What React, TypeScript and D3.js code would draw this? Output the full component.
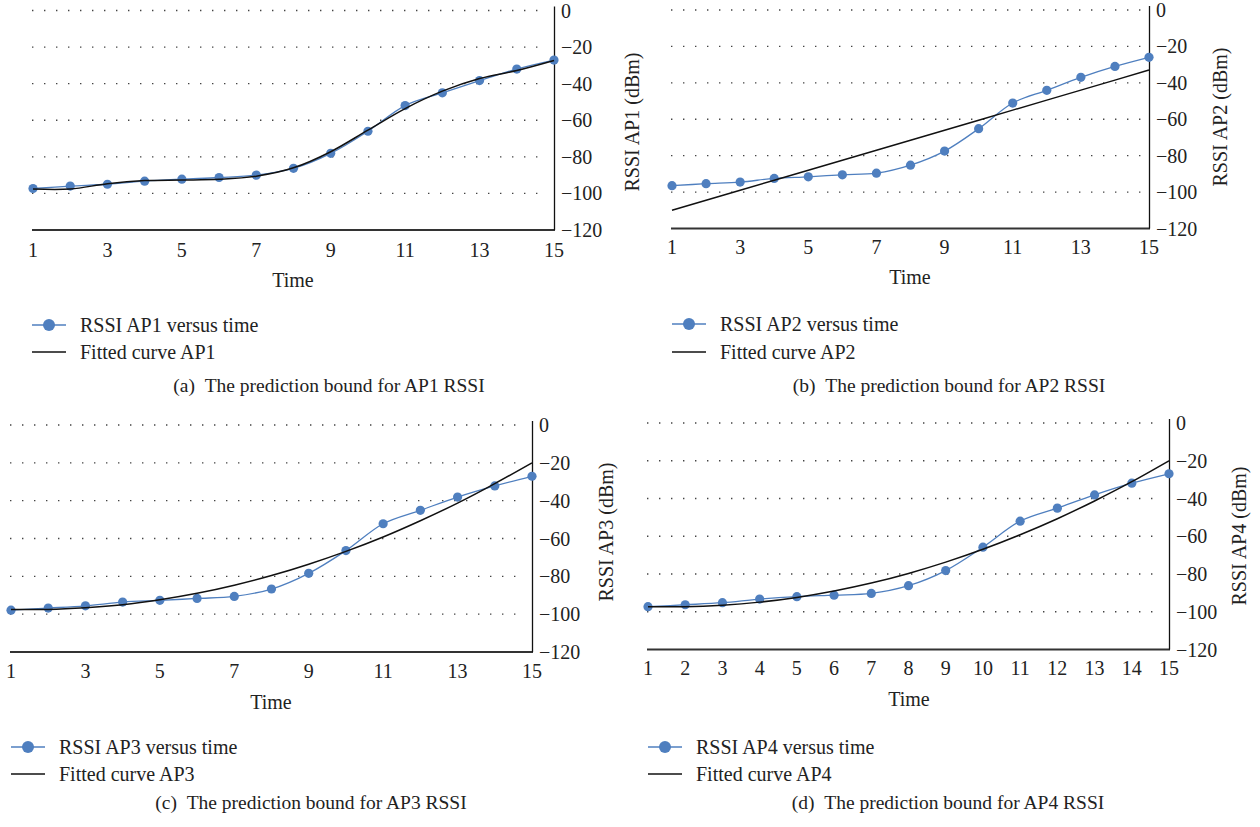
import React from "react";
import * as d3 from "d3";

// ---------- data ----------
const timeSteps = [1, 2, 3, 4, 5, 6, 7, 8, 9, 10, 11, 12, 13, 14, 15];
const yTickValues = [0, -20, -40, -60, -80, -100, -120];
const xTicksOdd = [1, 3, 5, 7, 9, 11, 13, 15];
const xTicksAll = [1, 2, 3, 4, 5, 6, 7, 8, 9, 10, 11, 12, 13, 14, 15];

const rssiAP1 = [-97.3, -96, -95, -93.3, -92.2, -91.3, -90, -86.3, -78.1, -66, -52, -45, -38.3, -32, -27.1];
const fitAP1 = [-97.6, -97.6, -94.7, -93, -92.7, -92.3, -90.6, -86, -77.2, -65.4, -53.6, -44.1, -37.2, -32.8, -27.3];

const rssiAP2 = [-96.5, -95.4, -94.5, -92.5, -91.6, -90.5, -89.6, -85.2, -77.5, -65.2, -51.1, -44.1, -37, -31, -26];
const fitAP2 = [-110, -104.5, -99, -93.5, -88, -82.5, -77, -71.5, -66, -60.5, -55, -49.5, -44, -38.5, -33];

const rssiAP3 = [-97.9, -96.8, -95.6, -93.6, -92.7, -91.7, -90.6, -86.7, -78.4, -66.4, -52.2, -45.1, -38.1, -32.2, -27.1];
const fitAP3 = [-97.5, -97.5, -96.6, -95.0, -92.4, -89.0, -84.7, -79.6, -73.6, -66.8, -59.2, -50.6, -41.3, -31.0, -20.0];

const rssiAP4 = [-97.3, -96.3, -95.2, -93.3, -92, -91.2, -90.3, -86.2, -78.2, -65.8, -52, -45.1, -38.1, -31.9, -26.9];
const fitAP4 = [-97.3, -97.3, -96.5, -94.9, -92.4, -89.0, -84.8, -79.7, -73.7, -66.9, -59.2, -50.7, -41.3, -31.1, -20.0];

const seriesNames = ["RSSI AP1 versus time", "RSSI AP2 versus time", "RSSI AP3 versus time", "RSSI AP4 versus time"];
const fitNames = ["Fitted curve AP1", "Fitted curve AP2", "Fitted curve AP3", "Fitted curve AP4"];
const yLabels = ["RSSI AP1 (dBm)", "RSSI AP2 (dBm)", "RSSI AP3 (dBm)", "RSSI AP4 (dBm)"];
const captionLetters = ["(a)", "(b)", "(c)", "(d)"];
const captionTexts = ["The prediction bound for AP1 RSSI", "The prediction bound for AP2 RSSI", "The prediction bound for AP3 RSSI", "The prediction bound for AP4 RSSI"];

const FONT = "Liberation Serif, Times New Roman, DejaVu Serif, serif";
const BLUE = "#4f7fbf";

type Layout = {
  x0: number; x1: number; yTop: number; yBot: number;
  tickY: number; timeX: number; timeY: number;
  ylX: number; ylY: number;
  legX: number; legY1: number; legY2: number;
  capX: number; capY: number;
};

const layouts: Layout[] = [
  { x0: 33, x1: 554, yTop: 10.5, yBot: 230, tickY: 250, timeX: 293, timeY: 280, ylX: 632, ylY: 122, legX: 32, legY1: 325, legY2: 352, capX: 329, capY: 385 },
  { x0: 672, x1: 1149, yTop: 10, yBot: 228.5, tickY: 247, timeX: 910, timeY: 277, ylX: 1220, ylY: 117, legX: 672, legY1: 324, legY2: 352, capX: 949, capY: 385 },
  { x0: 11, x1: 532, yTop: 425, yBot: 652, tickY: 671, timeX: 271, timeY: 702, ylX: 606, ylY: 532, legX: 11, legY1: 747, legY2: 774, capX: 311, capY: 802 },
  { x0: 648, x1: 1169, yTop: 423, yBot: 649.5, tickY: 668, timeX: 909, timeY: 699, ylX: 1239, ylY: 536, legX: 648, legY1: 747, legY2: 774, capX: 948, capY: 802 },
];

const panels = [
  { rssi: rssiAP1, fit: fitAP1, xticks: xTicksOdd, fitCurve: d3.curveCatmullRom.alpha(0.5) },
  { rssi: rssiAP2, fit: fitAP2, xticks: xTicksOdd, fitCurve: d3.curveLinear },
  { rssi: rssiAP3, fit: fitAP3, xticks: xTicksOdd, fitCurve: d3.curveNatural },
  { rssi: rssiAP4, fit: fitAP4, xticks: xTicksAll, fitCurve: d3.curveNatural },
];

const txt = (size: number): React.CSSProperties => ({ fontFamily: FONT, fontSize: size + "px" });

function Panel({ idx }: { idx: number }) {
  const L = layouts[idx];
  const P = panels[idx];
  const x = d3.scaleLinear().domain([1, 15]).range([L.x0, L.x1]);
  const y = d3.scaleLinear().domain([-120, 0]).range([L.yBot, L.yTop]);
  const pts = timeSteps.map((t, i) => [t, P.rssi[i]] as [number, number]);
  const fpts = timeSteps.map((t, i) => [t, P.fit[i]] as [number, number]);
  const dataLine = d3.line<[number, number]>().x((d) => x(d[0])).y((d) => y(d[1])).curve(d3.curveCatmullRom.alpha(0.5));
  const fitLine = d3.line<[number, number]>().x((d) => x(d[0])).y((d) => y(d[1])).curve(P.fitCurve);

  return (
    <g>
      {yTickValues.filter((v) => v !== -120).map((v) => (
        <line key={"g" + v} x1={L.x0 - 1} x2={L.x1 - 6} y1={y(v)} y2={y(v)}
          stroke="#444" strokeWidth={1.4} strokeDasharray="1.4 10.6" />
      ))}
      <line x1={L.x0 - 1} x2={L.x1 + 1} y1={L.yBot} y2={L.yBot} stroke="#333" strokeWidth={1.8} />
      <line x1={L.x1 + 0.5} x2={L.x1 + 0.5} y1={L.yTop - 4} y2={L.yBot} stroke="#111" strokeWidth={1.3} />
      {yTickValues.map((v) => (
        <text key={"yt" + v} x={L.x1 + 7} y={y(v)} dy="0.35em" style={txt(20)} fill="#222">
          {v === 0 ? "0" : "\u2212" + Math.abs(v)}
        </text>
      ))}
      {P.xticks.map((t) => (
        <text key={"xt" + t} x={x(t)} y={L.tickY} dy="0.35em" textAnchor="middle" style={txt(20)} fill="#222">
          {t}
        </text>
      ))}
      <text x={L.timeX} y={L.timeY} dy="0.35em" textAnchor="middle" style={txt(20)} fill="#222">Time</text>
      <text transform={`translate(${L.ylX},${L.ylY}) rotate(-90)`} dy="0.35em" textAnchor="middle" style={txt(20)} fill="#222">
        {yLabels[idx]}
      </text>
      <path d={dataLine(pts) || ""} fill="none" stroke={BLUE} strokeWidth={1.3} />
      {pts.map((d, i) => (
        <circle key={"c" + i} cx={x(d[0])} cy={y(d[1])} r={4.6} fill={BLUE} />
      ))}
      <path d={fitLine(fpts) || ""} fill="none" stroke="#111" strokeWidth={1.5} />
      <line x1={L.legX} x2={L.legX + 34} y1={L.legY1} y2={L.legY1} stroke={BLUE} strokeWidth={1.5} />
      <circle cx={L.legX + 17} cy={L.legY1} r={6} fill={BLUE} />
      <text x={L.legX + 48} y={L.legY1} dy="0.35em" style={txt(20)} fill="#222">{seriesNames[idx]}</text>
      <line x1={L.legX} x2={L.legX + 34} y1={L.legY2} y2={L.legY2} stroke="#111" strokeWidth={1.5} />
      <text x={L.legX + 48} y={L.legY2} dy="0.35em" style={txt(20)} fill="#222">{fitNames[idx]}</text>
      <text x={L.capX} y={L.capY} dy="0.35em" textAnchor="middle" style={txt(19.5)} fill="#222">
        {captionLetters[idx] + "\u00a0\u00a0" + captionTexts[idx]}
      </text>
    </g>
  );
}

export default function App() {
  return (
    <svg width={1260} height={827} viewBox="0 0 1260 827"
      style={{ position: "absolute", left: 0, top: 0, background: "#fff", display: "block" }}>
      <rect x={0} y={0} width={1260} height={827} fill="#fff" />
      {[0, 1, 2, 3].map((i) => <Panel key={i} idx={i} />)}
    </svg>
  );
}
